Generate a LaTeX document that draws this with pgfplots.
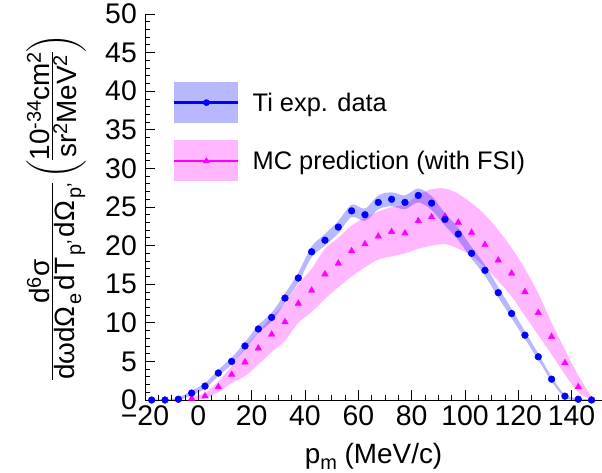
\documentclass[border=0pt]{standalone}
\usepackage{amsmath}
\usepackage{fontspec}
\setmainfont{Liberation Sans}
\usepackage{pgfplots}
\pgfplotsset{compat=1.18}
\usepgfplotslibrary{fillbetween}
\usepackage{pgfplotstable}
\definecolor{rblue}{RGB}{0,0,255}
\definecolor{rmag}{RGB}{255,0,255}
\newcommand{\supx}[1]{\raisebox{9bp}{\fontsize{20}{20}\selectfont #1}}
\newcommand{\subx}[1]{\hspace{2bp}\raisebox{-7bp}{\fontsize{20}{20}\selectfont #1}\hspace{3bp}}
\newcommand{\rfrac}[2]{{\setlength{\arrayrulewidth}{1.3bp}\setlength{\tabcolsep}{0pt}\begin{tabular}[c]{@{}c@{}}#1\\[-7bp]\hline #2\end{tabular}}}

\pgfplotstableread{
x y lo hi
-17.5 0.0 0.0 0.1
-12.5 0.0 0.0 0.1
-7.5 0.1 0.0 0.3
-2.5 0.9 0.6 1.2
2.5 1.8 1.5 2.2
7.5 3.5 3.1 3.9
12.5 5.0 4.6 5.5
17.5 7.0 6.6 7.5
22.5 9.2 8.7 9.7
27.5 10.7 10.2 11.3
32.5 13.2 12.6 13.8
37.5 15.8 15.2 16.5
42.5 19.2 18.5 19.9
47.5 20.7 20.0 21.5
52.5 22.4 21.6 23.2
57.5 24.5 23.7 25.3
62.5 24.0 23.2 24.8
67.5 25.6 24.7 26.5
72.5 26.0 25.1 26.9
77.5 25.6 24.7 26.5
82.5 26.5 25.6 27.4
87.5 25.5 24.6 26.4
92.5 23.4 22.6 24.2
97.5 21.5 20.7 22.3
102.5 19.0 18.3 19.8
107.5 16.8 16.1 17.5
112.5 13.9 13.3 14.6
117.5 11.2 10.6 11.8
122.5 8.4 7.9 8.9
127.5 5.6 5.2 6.0
132.5 2.7 2.4 3.0
137.5 0.5 0.3 0.7
142.5 0.1 0.0 0.2
147.5 0.0 0.0 0.1
}\ti

\pgfplotstableread{
x y lo hi
-2.5 0.2 0.0 0.4
2.5 0.5 0.2 0.9
7.5 1.7 1.0 2.4
12.5 3.3 2.2 4.4
17.5 4.9 3.1 6.8
22.5 6.7 4.6 8.8
27.5 8.5 6.2 10.8
32.5 10.1 7.7 12.5
37.5 12.5 10.0 15.0
42.5 14.2 11.4 17.0
47.5 16.3 13.1 19.6
52.5 17.7 14.6 21.0
57.5 19.3 16.0 22.6
62.5 20.2 17.2 23.6
67.5 21.2 18.2 24.4
72.5 21.8 18.6 25.0
77.5 21.6 19.0 25.3
82.5 23.2 19.6 26.6
87.5 23.7 20.0 27.3
92.5 23.8 20.2 27.4
97.5 23.0 19.6 26.7
102.5 21.7 18.7 25.5
107.5 20.1 17.2 24.0
112.5 18.1 15.4 22.0
117.5 16.4 13.4 19.7
122.5 14.0 10.9 17.0
127.5 11.3 8.4 13.8
132.5 8.2 5.9 10.0
137.5 4.8 3.3 6.5
142.5 1.7 1.0 3.2
147.5 0.0 0.0 0.4
}\mc

\begin{document}
\begin{tikzpicture}
\begin{axis}[
  at={(0,0)}, anchor=south west,
  scale only axis, width=457bp, height=386bp,
  xmin=-20, xmax=151.4, ymin=0, ymax=50,
  axis x line=bottom, axis y line=left,
  axis line style={-, line width=0.8bp},
  tick align=inside,
  xtick={-20,0,20,40,60,80,100,120,140},
  xticklabels={−20,0,20,40,60,80,100,120,140},
  minor x tick num=3,
  ytick={0,5,...,50}, minor y tick num=4,
  major tick length=10bp, minor tick length=5bp,
  tick style={black, line width=0.8bp},
  /pgf/number format/assume math mode=true,
  ticklabel style={font=\fontsize{28.5}{30}\selectfont, inner sep=0pt},
  xticklabel style={yshift=-5bp},
  yticklabel style={xshift=-8bp},
  xlabel={p\raisebox{-6bp}{\fontsize{20}{20}\selectfont m} (MeV/c)},
  xlabel style={at={(rel axis cs:0.5,0)}, anchor=base, yshift=-63bp, inner sep=0pt, font=\fontsize{28}{30}\selectfont},
  ylabel={\rfrac{d\supx{6}σ}{dωdΩ\subx{e}dT\subx{p'}dΩ\subx{p'}}\,$\left(\rule[-21bp]{0pt}{50bp}\rfrac{10\supx{-34}cm\supx{2}}{sr\supx{2}MeV\supx{2}}\right)$},
  ylabel style={at={(rel axis cs:0,0.5)}, anchor=south, yshift=59bp, inner sep=0pt, font=\fontsize{28}{30}\selectfont},
  legend style={at={(axis cs:-9.5,41.2)}, anchor=north west, draw=none, fill=none, inner sep=0pt,
    row sep=17bp, column sep=13bp, font=\fontsize{25.5}{28}\selectfont, nodes={inner sep=0pt}},
  legend cell align=left,
]
\addplot[name path=mhi, draw=none, forget plot, smooth] table[x=x,y=hi]{\mc};
\addplot[name path=mlo, draw=none, forget plot, smooth] table[x=x,y=lo]{\mc};
\addplot[rmag, fill opacity=0.28, draw=none, forget plot] fill between[of=mhi and mlo];
\addplot[name path=bhi, draw=none, forget plot, smooth] table[x=x,y=hi]{\ti};
\addplot[name path=blo, draw=none, forget plot, smooth] table[x=x,y=lo]{\ti};
\addplot[rblue, fill opacity=0.28, draw=none, forget plot] fill between[of=bhi and blo];
\addplot[only marks, mark=triangle*, mark size=3.8bp, rmag, forget plot] table[x=x,y=y]{\mc};
\addplot[only marks, mark=*, mark size=3.4bp, rblue, forget plot] table[x=x,y=y]{\ti};

\addlegendimage{legend image code/.code={
  \fill[rblue, fill opacity=0.28, draw=none] (0bp,-20.5bp) rectangle (64bp,20.5bp);
  \draw[rblue, line width=2.5bp] (0bp,0bp) -- (64bp,0bp);
  \fill[rblue, draw=none] (32bp,0bp) circle (3.4bp);}}
\addlegendentry{Ti exp. data}
\addlegendimage{legend image code/.code={
  \fill[rmag, fill opacity=0.28, draw=none] (0bp,-20.5bp) rectangle (64bp,20.5bp);
  \draw[rmag, line width=2bp] (0bp,0bp) -- (64bp,0bp);
  \fill[rmag, draw=none] (28.5bp,-2.5bp) -- (35.5bp,-2.5bp) -- (32bp,3.5bp) -- cycle;}}
\addlegendentry{MC prediction (with FSI)}
\end{axis}
\pgfresetboundingbox
\path[use as bounding box] (-145bp,-73bp) rectangle (457bp,400bp);
\end{tikzpicture}
\end{document}
